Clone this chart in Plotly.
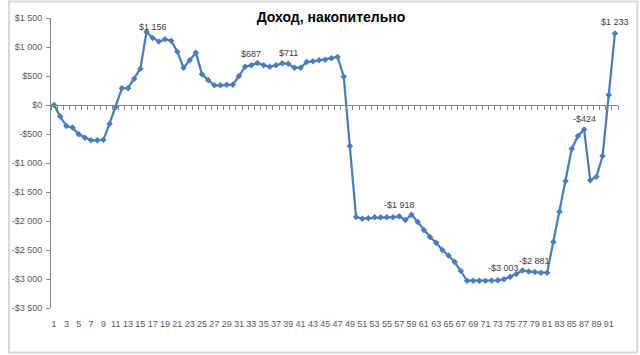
import plotly.graph_objects as go

# ---- data ----
periods = list(range(1, 93))
income = [
    0, -200, -362, -390, -505, -563, -609, -609, -600, -322,
    -34, 288, 290, 453, 626, 1259, 1156, 1093, 1132, 1109,
    919, 643, 770, 902, 529, 431, 339, 339, 351, 351,
    500, 661, 687, 724, 684, 661, 684, 718, 711, 644,
    644, 741, 753, 770, 782, 804, 827, 489, -707, -1931,
    -1960, -1954, -1937, -1937, -1937, -1937, -1918, -1983, -1891, -2017,
    -2155, -2276, -2374, -2500, -2595, -2707, -2862, -3030, -3030, -3030,
    -3030, -3028, -3022, -3003, -2965, -2915, -2852, -2870, -2881, -2891,
    -2891, -2362, -1842, -1310, -753, -534, -424, -1298, -1236, -879,
    172, 1233,
]
label_periods = [17, 33, 39, 57, 74, 79, 87, 92]
label_values = [1156, 687, 711, -1918, -3003, -2881, -424, 1233]
label_texts = ["$1 156", "$687", "$711", "-$1 918", "-$3 003", "-$2 881", "-$424", "$1 233"]
y_tickvals = [1500, 1000, 500, 0, -500, -1000, -1500, -2000, -2500, -3000, -3500]
y_ticktext = ["$1 500", "$1 000", "$500", "$0", "-$500", "-$1 000", "-$1 500",
              "-$2 000", "-$2 500", "-$3 000", "-$3 500"]
x_tickvals = list(range(1, 92, 2))
x_ticktext = [str(v) for v in x_tickvals]
title_text = "Доход, накопительно"

LINE = "#4A7EBB"
GRAY = "#868686"
TXT = "#595959"
W, H = 640, 355
ML, MR, MT, MB = 44, 22, 18, 47

fig = go.Figure()
fig.add_trace(go.Scatter(
    x=periods, y=income, mode="lines+markers",
    line=dict(color=LINE, width=2.25),
    marker=dict(symbol="diamond", size=5, color=LINE),
    hoverinfo="x+y", showlegend=False,
))
# invisible trace to host the zero-line category axis
fig.add_trace(go.Scatter(
    x=periods, y=income, xaxis="x2", mode="lines",
    line=dict(width=0), opacity=0, hoverinfo="skip", showlegend=False,
))

annotations = [
    dict(x=px, y=pv, text=t, showarrow=False, yshift=11, xanchor="center", yanchor="middle",
         font=dict(family="Liberation Sans", size=9, color="#404040"))
    for px, pv, t in zip(label_periods, label_values, label_texts)
]

pw = W - ML - MR
ph = H - MT - MB
fig.update_layout(
    width=W, height=H,
    margin=dict(l=ML, r=MR, t=MT, b=MB, pad=0),
    paper_bgcolor="white", plot_bgcolor="white",
    title=dict(text="<b>" + title_text + "</b>", x=(ML + pw / 2) / W, xanchor="center",
               y=1 - 17 / H, yanchor="middle",
               font=dict(family="Liberation Sans", size=14, color="#000000")),
    xaxis=dict(
        range=[0.5, 92.5], tickmode="array", tickvals=x_tickvals, ticktext=x_ticktext,
        showline=False, showgrid=False, zeroline=False, ticks="",
        tickfont=dict(family="Liberation Sans", size=9, color=TXT),
        ticklabelstandoff=9,
    ),
    xaxis2=dict(
        range=[0.5, 92.5], overlaying="x", anchor="free",
        position=3500 / 5000, side="bottom",
        tickmode="array", tickvals=[v + 0.5 for v in range(0, 93)],
        ticks="outside", ticklen=4, tickcolor=GRAY, tickwidth=1,
        showticklabels=False, showline=True, linecolor=GRAY, linewidth=1,
        showgrid=False, zeroline=False,
    ),
    yaxis=dict(
        range=[-3500, 1500], tickmode="array", tickvals=y_tickvals, ticktext=y_ticktext,
        showline=True, linecolor=GRAY, linewidth=1, ticks="outside", ticklen=4,
        tickcolor=GRAY, showgrid=False, zeroline=False,
        tickfont=dict(family="Liberation Sans", size=9, color=TXT),
        ticklabelstandoff=2,
    ),
    annotations=annotations,
    shapes=[dict(
        type="rect", xref="paper", yref="paper", layer="below",
        x0=-(ML - 1.5) / pw, x1=1 + (MR - 2.5) / pw,
        y0=-(MB - 2.5) / ph, y1=1 + (MT - 1.5) / ph,
        line=dict(color="#d9d9d9", width=2), fillcolor="rgba(0,0,0,0)",
    )],
)

fig.write_html("out.html")
